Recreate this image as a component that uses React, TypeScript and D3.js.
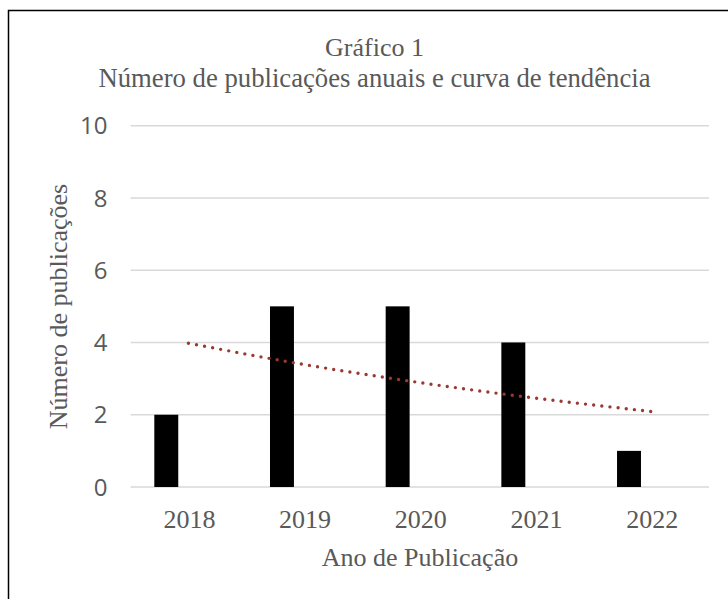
import React from "react";
import * as d3 from "d3";

const years = ["2018", "2019", "2020", "2021", "2022"];
const publications = [2, 5, 5, 4, 1];
const trendValues = [3.98, 3.39, 2.89, 2.46, 2.09];
const yTicks = [0, 2, 4, 6, 8, 10];

const title = "Gráfico 1";
const subtitle = "Número de publicações anuais e curva de tendência";
const xTitle = "Ano de Publicação";
const yTitle = "Número de publicações";

export default function App() {
  const W = 728;
  const H = 599;
  const x = d3.scaleBand<string>().domain(years).range([130.6, 709]).paddingInner(0).paddingOuter(0);
  const y = d3.scaleLinear().domain([0, 10]).range([487, 125.7]);
  const bw = x.bandwidth();
  const serif = "'Liberation Serif', 'Times New Roman', serif";
  const sans = "'Open Sans', 'Noto Sans', sans-serif";
  const grey = "#595959";

  const line = d3
    .line<number>()
    .x((_, i) => (x(years[i]) as number) + bw / 2)
    .y((d) => y(d))
    .curve(d3.curveMonotoneX);

  return (
    <svg
      width={W}
      height={H}
      style={{ position: "absolute", left: 0, top: 0, background: "#fff" }}
    >
      <rect x={0} y={0} width={W} height={H} fill="#fff" />
      <rect x={8.5} y={10.5} width={740} height={620} fill="#fff" stroke="#000" strokeWidth={1.5} />
      <text x={374.5} y={55.5} textAnchor="middle" fontFamily={serif} fontSize={26} fill={grey}>
        {title}
      </text>
      <text x={374.5} y={86.5} textAnchor="middle" fontFamily={serif} fontSize={26.7} fill={grey}>
        {subtitle}
      </text>
      {yTicks.map((t) => (
        <g key={t}>
          <line x1={130.6} x2={709} y1={y(t)} y2={y(t)} stroke="#d9d9d9" strokeWidth={1.5} />
          <text
            x={107.5}
            y={y(t)}
            dy="0.36em"
            textAnchor="end"
            fontFamily={sans}
            fontSize={24}
            fill={grey}
          >
            {t}
          </text>
        </g>
      ))}
      {years.map((yr, i) => (
        <rect
          key={yr}
          x={(x(yr) as number) + bw * 0.205}
          y={y(publications[i])}
          width={bw * 0.207}
          height={y(0) - y(publications[i])}
          fill="#000"
        />
      ))}
      <path
        d={line(trendValues) as string}
        fill="none"
        stroke="#9a3834"
        strokeWidth={3.4}
        strokeLinecap="round"
        strokeDasharray="0 8.2"
      />
      {years.map((yr) => (
        <text
          key={yr}
          x={(x(yr) as number) + bw / 2 + 1}
          y={527.7}
          textAnchor="middle"
          fontFamily={serif}
          fontSize={26}
          fill={grey}
        >
          {yr}
        </text>
      ))}
      <text x={420} y={566} textAnchor="middle" fontFamily={serif} fontSize={26} fill={grey}>
        {xTitle}
      </text>
      <text
        transform={`translate(67,306.5) rotate(-90)`}
        textAnchor="middle"
        fontFamily={serif}
        fontSize={26}
        fill={grey}
      >
        {yTitle}
      </text>
    </svg>
  );
}
